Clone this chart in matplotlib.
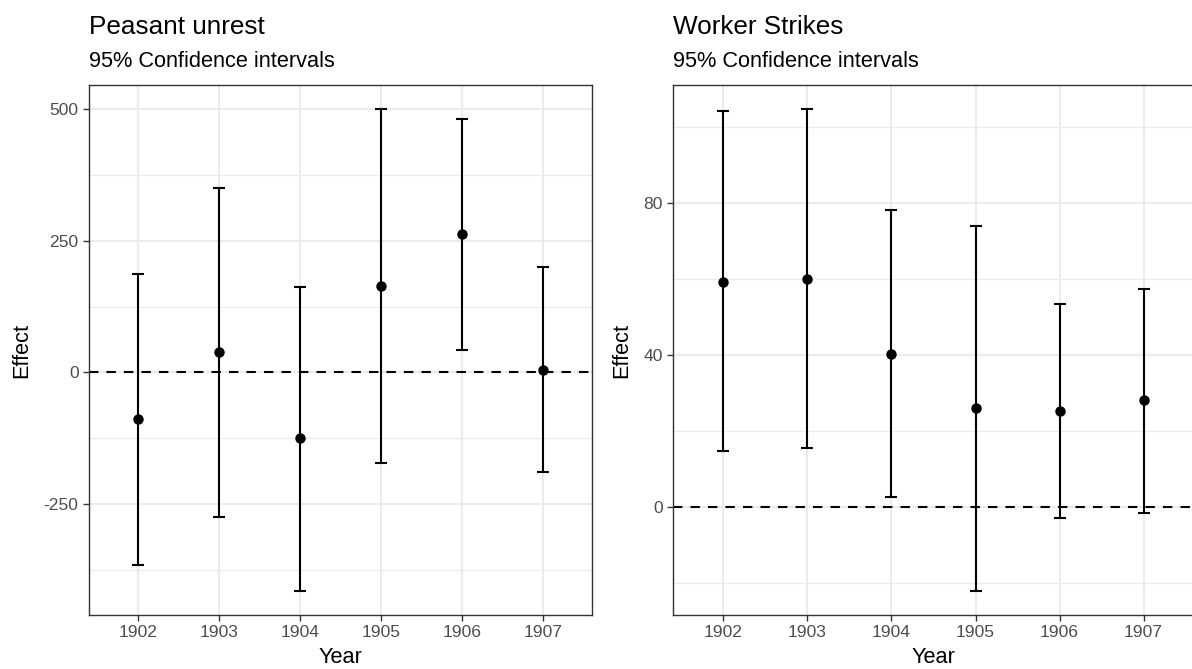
import matplotlib
matplotlib.use("Agg")
import matplotlib.pyplot as plt

plt.rcParams['font.family'] = ['Liberation Sans', 'DejaVu Sans']

# Estimated effects by year with 95% confidence bounds
years = ['1902', '1903', '1904', '1905', '1906', '1907']

peasant_est = [-89, 38, -125, 164, 262, 4]
peasant_low = [-366, -275, -415, -172, 43, -189]
peasant_high = [187, 351, 162, 500, 481, 200]

strikes_est = [59.3, 59.9, 40.3, 25.9, 25.1, 28.0]
strikes_low = [14.6, 15.4, 2.6, -22.2, -3.1, -1.6]
strikes_high = [104.3, 104.8, 78.2, 74.0, 53.3, 57.3]

peasant_ticks = [-250, 0, 250, 500]
peasant_minor = [-375, -125, 125, 375]
strikes_ticks = [0, 40, 80]
strikes_minor = [-20, 20, 60, 100]

W, H = 1192, 669
PH = 530  # panel height in pixels
GRID = '#EBEBEB'
BORDER = '#333333'
TICKTXT = '#4D4D4D'


def panel(ax, title, est, low, high, ticks, minor):
    x = list(range(len(years)))
    yerr = [[e - l for e, l in zip(est, low)], [h - e for e, h in zip(est, high)]]

    # ggplot style limits: 5% padding on y, 0.6 on discrete x
    lo, hi = min(low), max(high)
    pad = (hi - lo) * 0.05
    ax.set_ylim(lo - pad, hi + pad)
    ax.set_xlim(-0.6, len(years) - 1 + 0.6)

    for m in minor:
        ax.axhline(m, color=GRID, lw=0.8, zorder=0)
    for t in ticks:
        ax.axhline(t, color=GRID, lw=1.5, zorder=0)
    for xi in x:
        ax.axvline(xi, color=GRID, lw=1.5, zorder=0)

    ax.axhline(0, color='black', lw=1.5, ls=(0, (4.5, 3.9)), zorder=1)
    ax.errorbar(x, est, yerr=yerr, fmt='o', color='black', ms=6.5,
                elinewidth=1.5, capsize=4, capthick=1.5, zorder=3)

    ax.set_xticks(x)
    ax.set_xticklabels(years)
    ax.set_yticks(ticks)
    ax.set_yticklabels([str(t) for t in ticks])
    ax.tick_params(axis='both', colors=BORDER, labelcolor=TICKTXT,
                   labelsize=12.6, length=4, width=1, pad=3.5)
    for s in ax.spines.values():
        s.set_color(BORDER)
        s.set_linewidth(1)

    ax.set_xlabel('Year', fontsize=15.7, labelpad=5)
    ax.set_ylabel('Effect', fontsize=15.7, labelpad=8)

    # title and subtitle sit above the panel, left aligned
    ax.text(0, 1 + 51 / PH, title, transform=ax.transAxes, fontsize=18.8,
            ha='left', va='baseline')
    ax.text(0, 1 + 18 / PH, '95% Confidence intervals', transform=ax.transAxes,
            fontsize=15.7, ha='left', va='baseline')


fig = plt.figure(figsize=(W / 100, H / 100), dpi=100)
ax1 = fig.add_axes([89 / W, 54 / H, 503 / W, PH / H])
ax2 = fig.add_axes([673 / W, 54 / H, 521 / W, PH / H])

panel(ax1, 'Peasant unrest', peasant_est, peasant_low, peasant_high,
      peasant_ticks, peasant_minor)
panel(ax2, 'Worker Strikes', strikes_est, strikes_low, strikes_high,
      strikes_ticks, strikes_minor)

fig.savefig('out.png', dpi=100)
